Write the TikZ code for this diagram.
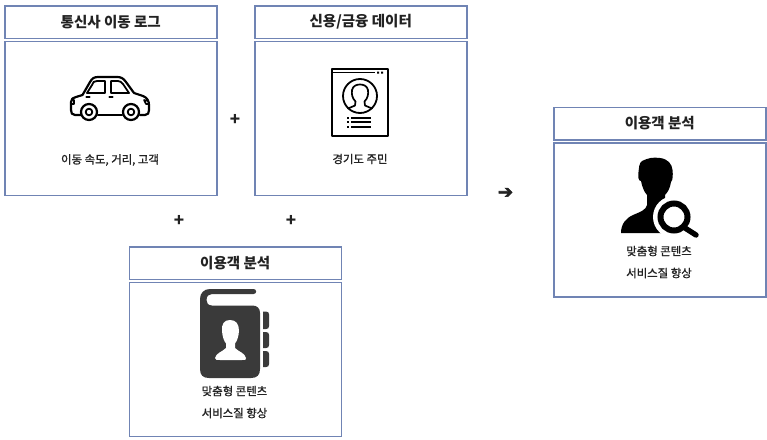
\documentclass[tikz,border=0pt]{standalone}
\usepackage{fontspec}
\setmainfont{Noto Sans CJK KR}
\newfontfamily\arrowfont[FakeBold=3]{DejaVu Sans}
\newfontfamily\labelfont[FakeBold=1.2]{Noto Sans CJK KR}
\definecolor{boxline}{HTML}{7084B4}
\definecolor{ink}{HTML}{222222}
\definecolor{bookdark}{HTML}{3A3A3A}
\tikzset{
  frame/.style={draw=boxline,line width=1.5pt,fill=white,rectangle,minimum width=212pt,inner sep=0pt,anchor=north west},
  titlebox/.style={frame,minimum height=32.5pt,font=\fontsize{14.5}{16}\selectfont\bfseries,text=ink},
  bodybox/.style={frame,minimum height=154pt},
  label/.style={font=\labelfont\fontsize{11.4}{13}\selectfont,text=ink,inner sep=0pt},
  opsign/.style={font=\fontsize{17}{18}\selectfont\bfseries,text=ink,inner sep=0pt},
  icon/.style={line width=2.2pt,draw=black,line join=round,line cap=round},
  iconthin/.style={line width=1.5pt,draw=black,line join=round,line cap=round}
}
\begin{document}
\begin{tikzpicture}[x=1pt,y=-1pt]
\useasboundingbox (0,0) rectangle (767,439);
\fill[white] (0,0) rectangle (767,439);
% boxes
\node[titlebox] (t1) at (4,5) {통신사 이동 로그};
\node[bodybox] (b1) at (4,40.5) {};
\node[titlebox] (t2) at (254,5) {신용/금융 데이터};
\node[bodybox] (b2) at (254,40.5) {};
\node[titlebox] (t3) at (128.5,246) {이용객 분석};
\node[bodybox] (b3) at (128.5,281.5) {};
\node[titlebox] (t4) at (553,106.5) {이용객 분석};
\node[bodybox] (b4) at (553,142) {};
% labels
\node[label] (l1) at (110,160) {이동 속도, 거리, 고객};
\node[label] (l2) at (360,159) {경기도 주민};
\node[label] (l3a) at (234.5,391) {맞춤형 콘텐츠};
\node[label] (l3b) at (234.5,413) {서비스질 향상};
\node[label] (l4a) at (659,251) {맞춤형 콘텐츠};
\node[label] (l4b) at (659,273) {서비스질 향상};
% operators
\node[opsign] (p1) at (235,119.5) {+};
\node[opsign] (p2) at (179,220.5) {+};
\node[opsign] (p3) at (291,220.5) {+};
\node[inner sep=0pt,font=\arrowfont\fontsize{18}{19}\selectfont,text=ink] (arr) at (505.5,193) {➔};
% car
\draw[icon,fill=white] (81,115) -- (75,115) .. controls (72,115) and (71,113) .. (71,110) -- (71,102)
  .. controls (71,99) and (73,97.5) .. (76,97) -- (82.5,95) -- (90,82)
  .. controls (92,78.5) and (94,77) .. (98,77) -- (117,77)
  .. controls (121,77) and (123,78) .. (126,82) -- (134,93) -- (143,96)
  .. controls (147,97.5) and (149,101) .. (149,105) -- (149,110)
  .. controls (149,113) and (148,115) .. (145,115) -- (140,115);
\draw[icon] (98,115) -- (122,115);
\draw[icon,line width=1.8pt] (87,93) -- (92,85) .. controls (93,82) and (94,81) .. (97,81) -- (105,81) -- (105,93) -- cycle;
\draw[icon,line width=1.8pt] (111,93) -- (111,81) -- (118,81) .. controls (120,81) and (121,82) .. (123,84) -- (129,93) -- cycle;
\draw[icon] (86.5,97) -- (89.5,97) (109.5,97) -- (112.5,97);
\draw[icon,line width=1.6pt] (72,99.5) -- (74,100) -- (74,104) -- (71.5,104);
\draw[icon,line width=1.6pt] (148,101) -- (144,100) (144,100) -- (146,104) -- (149,104);
\foreach \cx/\nm in {89/wa,131/wb}{
  \draw[icon,fill=white] (\cx,112) circle (8);
  \draw[icon,line width=1.8pt] (\cx,112) circle (3.3);
}
% id sheet
\draw[icon,line cap=butt,line width=2pt] (388,72) -- (388,136) -- (332,136) -- (332,69) -- (388,69) -- (388,72);
\draw[iconthin,line cap=butt,line width=1.3pt] (333,72.5) -- (375,72.5);
\fill (377,71.5) rectangle +(2,2) (381,71.5) rectangle +(2,2);
\draw[icon,line width=1.8pt] (360,96) circle (17);
\draw[iconthin,line width=1.7pt] (348,108.5) -- (355,105.5) -- (355.5,101.5)
  .. controls (352,98) and (351.5,94) .. (352,90)
  .. controls (353,85.5) and (357,84.5) .. (360,84.5)
  .. controls (363,84.5) and (367,85.5) .. (368,90)
  .. controls (368.5,94) and (368,98) .. (364.5,101.5) -- (365,105.5) -- (372,108.5);
\foreach \ly in {117.5,122,127}{
  \fill (347,\ly-1) rectangle (349,\ly+1);
  \fill (351,\ly-1) rectangle (371,\ly+1);
}
% book
\fill[bookdark] (253.5,289) -- (210,289) .. controls (204,289) and (200,293) .. (200,299)
  -- (200,369) .. controls (200,375) and (203,378) .. (209,378) -- (251,378)
  .. controls (257,378) and (260,375) .. (260,369) -- (260,313)
  .. controls (260,308) and (257,305.5) .. (252,305.5) -- (212,305.5)
  .. controls (208,305.5) and (206.5,303) .. (206.5,300)
  .. controls (206.5,296) and (209,294) .. (212,294) -- (253.5,294)
  .. controls (257,294) and (257,289) .. (253.5,289) -- cycle;
\foreach \ta/\tb in {311.5/329,332/348,351/367}{
  \fill[bookdark] (263,\ta) -- (266,\ta) .. controls (268,\ta) and (269,\ta+1) .. (269,\ta+3)
    -- (269,\tb-3) .. controls (269,\tb-1) and (268,\tb) .. (266,\tb) -- (263,\tb) -- cycle;
}
\fill[white] (230,320) .. controls (224,320) and (221.5,324) .. (222,331)
  .. controls (222.5,337) and (224,341) .. (226,343.5) -- (226,348)
  .. controls (222,352) and (216,353) .. (215,358)
  .. controls (215,360) and (217,360) .. (220,360) -- (242,360)
  .. controls (245,360) and (246.5,360) .. (246,358)
  .. controls (245,353) and (239,352) .. (235,348) -- (235,343.5)
  .. controls (237,341) and (238.5,337) .. (239,331)
  .. controls (239,324) and (236,320) .. (230,320) -- cycle;
% user with magnifier
\fill[black] (621,233) .. controls (621,224) and (626,218) .. (633,215)
  .. controls (640,212) and (646,210) .. (647,205) -- (647,195)
  .. controls (644,192) and (642,186) .. (641,181)
  .. controls (638,181) and (638,176) .. (638.5,172)
  .. controls (639,168) and (639,163) .. (642,161)
  .. controls (648,158) and (653,157) .. (660,158)
  .. controls (668,159) and (672,164) .. (672.5,170)
  .. controls (673,175) and (673,180) .. (671,182)
  .. controls (670,188) and (668,192) .. (665,195) -- (665,200)
  .. controls (668,205) and (675,208) .. (682,212) -- (682,233) -- cycle;
\fill[white] (674,217) circle (21);
\draw[black,line width=6pt] (674,217) circle (13.5);
\draw[black,line width=5.4pt,line cap=round] (685,228) -- (696,235);
\end{tikzpicture}
\end{document}
